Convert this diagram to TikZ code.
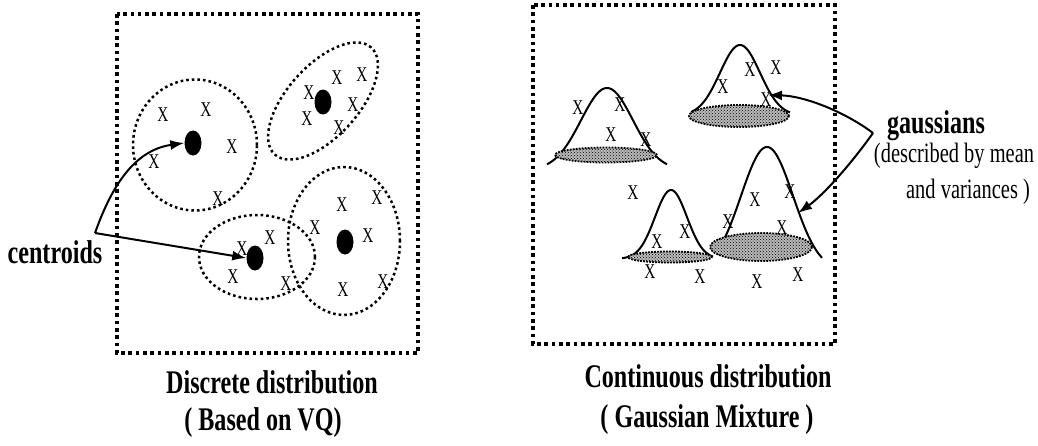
\documentclass[tikz,border=0pt]{standalone}
\usepackage{fontspec}
\setmainfont{Liberation Serif}[FakeStretch=0.73]
\usetikzlibrary{shapes.geometric,arrows.meta,patterns}
\newcommand\myBigFont{\fontsize{33}{36}\selectfont\bfseries}
\newcommand\myMedFont{\fontsize{28}{30}\selectfont}
\newcommand\myXFont{\fontsize{21}{21}\selectfont}
\begin{document}
\begin{tikzpicture}[x=1pt,y=-1pt,
  bx/.style={draw, line width=3.6pt, dash pattern=on 3.6pt off 3.7pt},
  cl/.style={draw, ellipse, inner sep=0pt, line width=2.5pt, dash pattern=on 2.6pt off 3pt},
  cen/.style={fill=black, ellipse, inner sep=0pt, minimum width=17pt, minimum height=25pt},
  xm/.style={font=\myXFont, inner sep=0pt},
  big/.style={font=\myBigFont, inner sep=0pt, anchor=base},
  med/.style={font=\myMedFont, inner sep=0pt, anchor=base},
  arr/.style={line width=2pt, -{Latex[length=14pt,width=10pt]}},
  bell/.style={line width=2pt},
  shd/.style={ellipse, inner sep=0pt, preaction={fill=gray!55}, pattern=crosshatch dots,
              draw, line width=1.8pt, dash pattern=on 1.8pt off 1.2pt}]
\useasboundingbox (0,0) rectangle (1038,445);

% frames
\draw[bx] (117,14) rectangle (418,353);
\draw[bx] (533,5) rectangle (835,344);

% ---------- left: clusters ----------
\node[cl, minimum width=124pt, minimum height=131pt] (e1) at (195,145) {};
\node[cl, minimum width=144pt, minimum height=71pt, rotate=48] (e2) at (323,101) {};
\node[cl, minimum width=112pt, minimum height=148pt] (e3) at (344,241) {};
\node[cl, minimum width=116pt, minimum height=84pt] (e4) at (257,257) {};

\node[cen] (c1) at (193,143) {};
\node[cen] (c2) at (323,102) {};
\node[cen] (c3) at (345,242) {};
\node[cen] (c4) at (255,258) {};

\foreach \p [count=\i] in {(163,115),(206,110),(232,147),(154,162),(218,199),
  (337,78),(362,75),(309,93),(307,119),(353,105),(339,128),
  (342,205),(377,198),(315,228),(368,236),(343,290),(383,282),
  (242,249),(270,238),(233,277),(286,284)}
  \node[xm] (xl\i) at \p {X};

\node[big] (lc) at (55,263) {centroids};
\coordinate (jc) at (95,233);
\draw[arr] (jc) .. controls (112,185) and (135,150) .. (c1.west);
\draw[arr] (jc) -- (c4.west);

\node[big] (ttl1) at (272,393) {Discrete distribution};
\node[big] (sub1) at (263,430) {( Based on VQ)};

% ---------- right: gaussians ----------
\foreach \p [count=\i] in {(578,108),(620,105),(611,135),(646,140),
  (723,87),(750,70),(776,68),(766,100),
  (633,193),(755,200),(790,192),
  (685,232),(657,242),(728,222),(782,228),
  (650,272),(700,277),(757,282),(798,275)}
  \node[xm] (xr\i) at \p {X};

\draw[bell] plot[domain=-60:60,samples=90] ({607+\x},{88+82*(1-exp(-\x*\x/1352))});
\draw[bell] plot[domain=-49:50,samples=90] ({740+\x},{45+70.5*(1-exp(-\x*\x/800))});
\draw[bell] plot[domain=-49:42,samples=90] ({671+\x},{190+68.8*(1-exp(-\x*\x/512))});
\draw[bell] plot[domain=-50:55,samples=90] ({767+\x},{147+124*(1-exp(-\x*\x/1352))});

\node[shd, minimum width=102pt, minimum height=15pt] (s1) at (606,155) {};
\node[shd, minimum width=100pt, minimum height=22pt] (s2) at (739,116) {};
\node[shd, minimum width=84pt, minimum height=11pt] (s3) at (670,257) {};
\node[shd, minimum width=102pt, minimum height=28pt] (s4) at (761,247) {};

\node[big] (lg) at (936,133) {gaussians};
\node[med] (ld1) at (954,162) {(described by mean};
\node[med] (ld2) at (968,198) {and variances )};
\coordinate (jg) at (873,133);
\coordinate (t2) at (768,95);
\coordinate (t4) at (798,213);
\draw[arr] (jg) .. controls (845,112) and (805,96) .. (t2);
\draw[arr] (jg) .. controls (848,168) and (822,196) .. (t4);

\node[big] (ttl2) at (708,387) {Continuous distribution};
\node[big] (sub2) at (707,427) {( Gaussian Mixture )};
\end{tikzpicture}
\end{document}
